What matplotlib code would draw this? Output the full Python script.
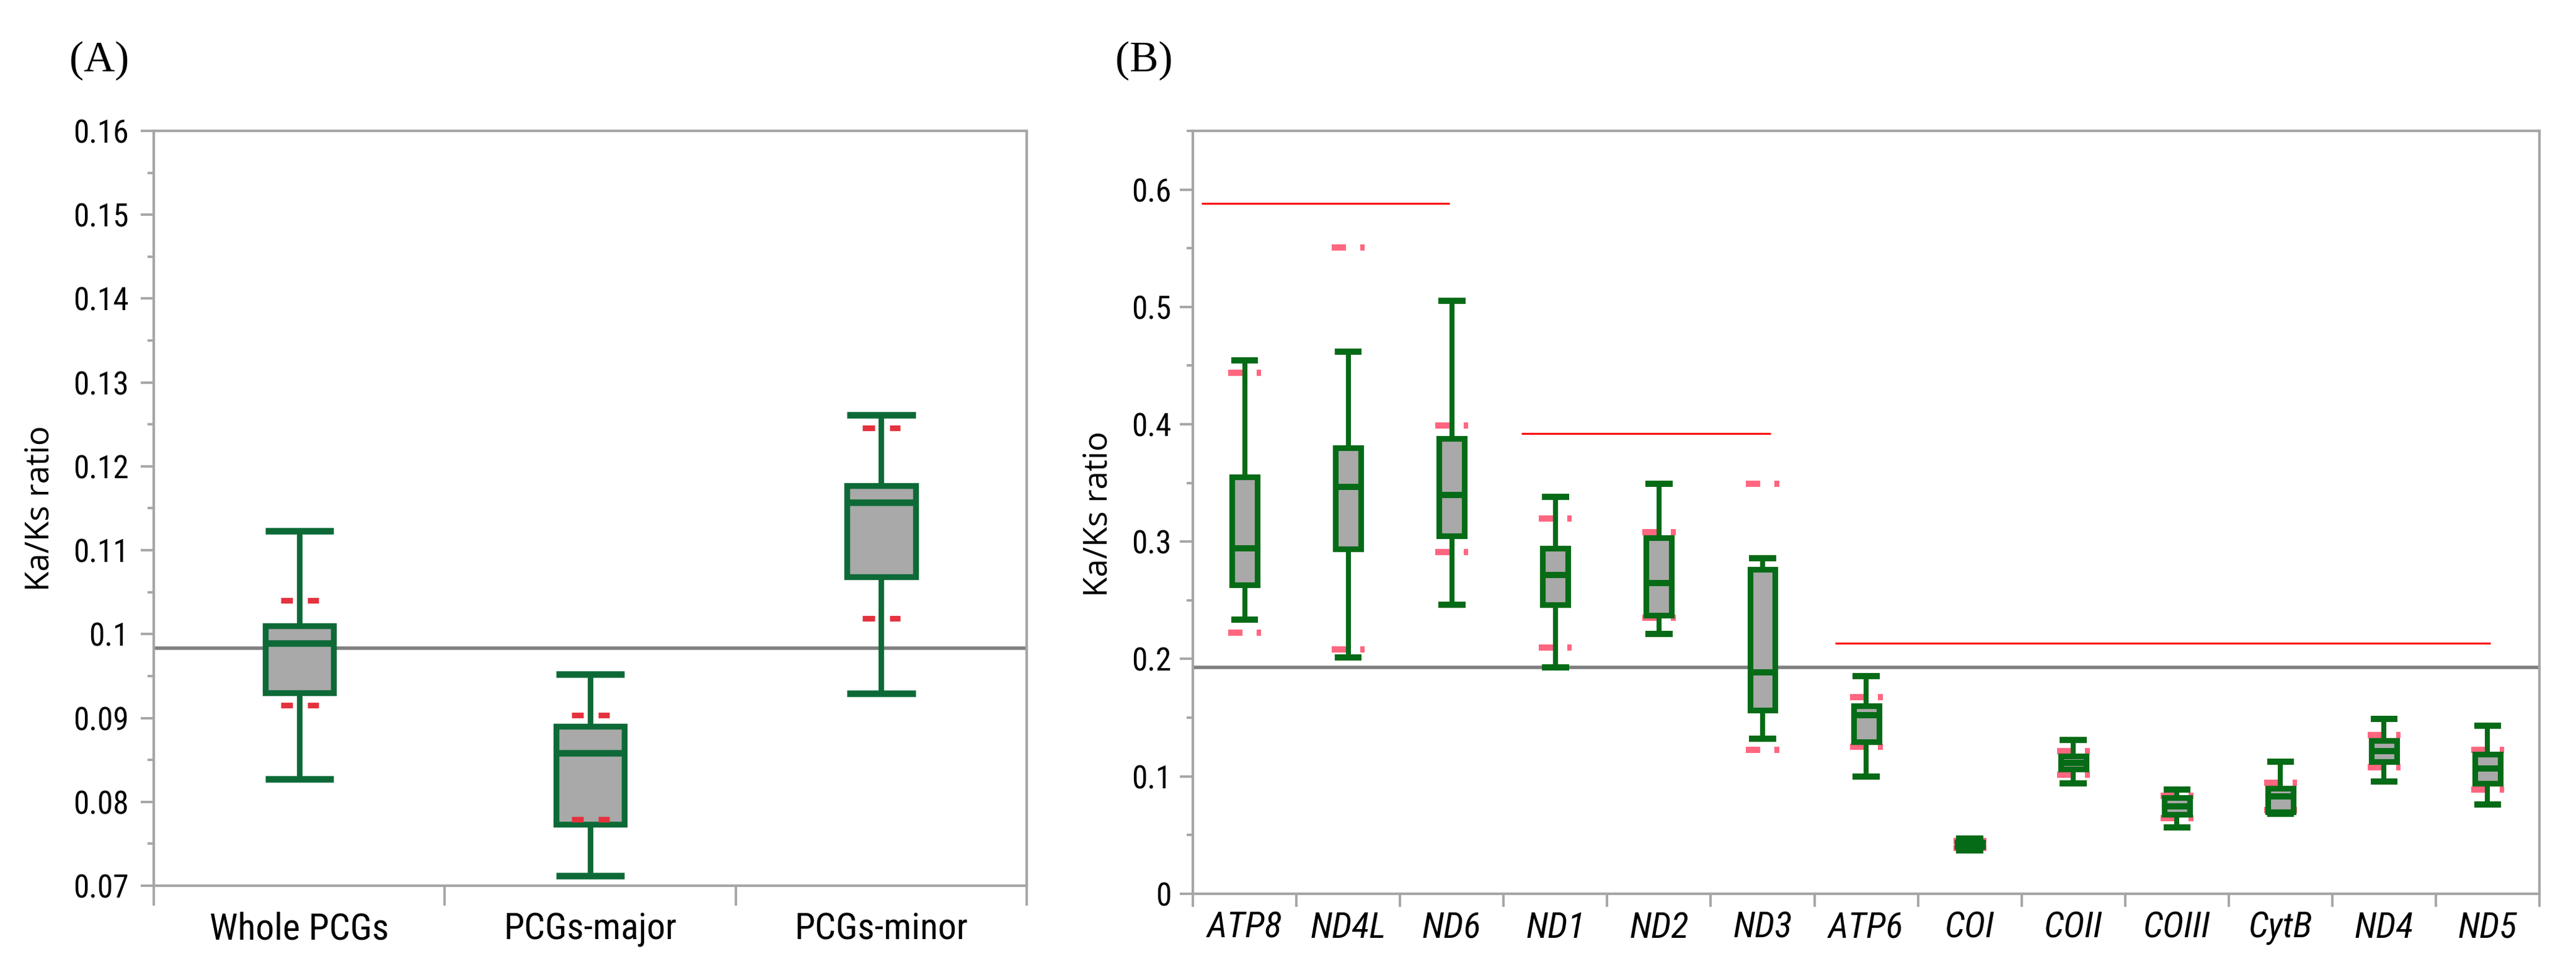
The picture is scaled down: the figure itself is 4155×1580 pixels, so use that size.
import numpy as np
import matplotlib
matplotlib.use('Agg')
import matplotlib.pyplot as plt
from matplotlib.ticker import MultipleLocator, FuncFormatter

plt.rcParams['lines.solid_capstyle'] = 'butt'

# ---- panel A data
cats_a = ['Whole PCGs', 'PCGs-major', 'PCGs-minor']
a_whislo = [0.0827, 0.0712, 0.0929]
a_q1 = [0.0930, 0.0773, 0.1068]
a_med = [0.0989, 0.0858, 0.1157]
a_q3 = [0.1010, 0.0890, 0.1177]
a_whishi = [0.1123, 0.0952, 0.1261]
a_dot_hi = [0.1040, 0.0903, 0.1246]
a_dot_lo = [0.0915, 0.0779, 0.1019]
a_overall = 0.0983

# ---- panel B data
genes = ['ATP8', 'ND4L', 'ND6', 'ND1', 'ND2', 'ND3', 'ATP6', 'COI', 'COII', 'COIII', 'CytB', 'ND4', 'ND5']
b_whislo = [0.2337, 0.2014, 0.2462, 0.193, 0.2212, 0.132, 0.0999, 0.037, 0.094, 0.0564, 0.068, 0.0957, 0.0759]
b_q1 = [0.263, 0.2936, 0.305, 0.246, 0.237, 0.1562, 0.1294, 0.040, 0.106, 0.0675, 0.0698, 0.1124, 0.094]
b_med = [0.2942, 0.3466, 0.3397, 0.2716, 0.2649, 0.1888, 0.152, 0.042, 0.1116, 0.0745, 0.0829, 0.1213, 0.1066]
b_q3 = [0.355, 0.380, 0.388, 0.2942, 0.3034, 0.2766, 0.1603, 0.044, 0.1172, 0.0818, 0.0898, 0.1303, 0.1191]
b_whishi = [0.4547, 0.4617, 0.5052, 0.338, 0.3494, 0.2858, 0.1855, 0.047, 0.1311, 0.0887, 0.1124, 0.1492, 0.1431]
b_dot_hi = [0.4437, 0.5506, 0.3988, 0.3199, 0.3081, 0.3494, 0.1674, 0.045, 0.1213, 0.0837, 0.0948, 0.1353, 0.1228]
b_dot_lo = [0.2225, 0.2083, 0.2914, 0.2097, 0.235, 0.1225, 0.125, 0.039, 0.1013, 0.0642, 0.0712, 0.108, 0.0885]
b_overall = 0.193
grp_level = [0.588, 0.392, 0.2133]
grp_start = [0.58, 3.67, 6.70]
grp_end = [2.98, 6.08, 13.03]

GRAY = '#a6a6a6'
FILL = '#a9a9a9'
NUM_FONT = ['Roboto Condensed', 'DejaVu Sans']
LAB_FONT = ['Open Sans', 'DejaVu Sans']


def stats(lo, q1, med, q3, hi):
    return [dict(whislo=a, q1=b, med=c, q3=d, whishi=e, fliers=[])
            for a, b, c, d, e in zip(lo, q1, med, q3, hi)]


def style_axes(ax, n, ylim, major, minor, xtick_len, ypad):
    ax.set_xlim(0.5, n + 0.5)
    ax.set_ylim(*ylim)
    for s in ax.spines.values():
        s.set_color(GRAY)
        s.set_linewidth(1.5)
    ax.yaxis.set_major_locator(MultipleLocator(major))
    ax.yaxis.set_minor_locator(MultipleLocator(minor))
    ax.yaxis.set_major_formatter(FuncFormatter(lambda v, p: '%g' % round(v, 3)))
    ax.tick_params(axis='y', which='major', length=7.5, width=1.4, color=GRAY,
                   labelsize=18.5, pad=ypad)
    ax.tick_params(axis='y', which='minor', length=3.5, width=1.4, color=GRAY)
    for t in ax.get_yticklabels():
        t.set_family(NUM_FONT)
    ax.set_xticks(np.arange(0.5, n + 1, 1.0))
    ax.set_xticklabels([])
    ax.tick_params(axis='x', which='major', length=xtick_len, width=1.4, color=GRAY)


fig = plt.figure(figsize=(20.775, 7.9), dpi=200)

# ---------------- panel A
axA = fig.add_axes([0.0597, 0.0962, 0.3389, 0.7703])
green_a = '#0d6a37'
pos_a = np.arange(1, len(cats_a) + 1)
axA.axhline(a_overall, color='#7f7f7f', lw=2.0, zorder=1)
axA.bxp(stats(a_whislo, a_q1, a_med, a_q3, a_whishi), positions=pos_a,
        widths=0.235, capwidths=0.235, patch_artist=True, showfliers=False,
        manage_ticks=False,
        boxprops=dict(facecolor=FILL, edgecolor=green_a, linewidth=3.4),
        whiskerprops=dict(color=green_a, linewidth=3.2),
        capprops=dict(color=green_a, linewidth=3.8),
        medianprops=dict(color=green_a, linewidth=3.8), zorder=2)
for x, hi, lo in zip(pos_a, a_dot_hi, a_dot_lo):
    for v in (hi, lo):
        axA.plot([x - 0.064, x - 0.023], [v, v], color='#e5323f', lw=3.3, zorder=3)
        axA.plot([x + 0.028, x + 0.066], [v, v], color='#e5323f', lw=3.3, zorder=3)
style_axes(axA, 3, (0.07, 0.16), 0.01, 0.005, 11.5, 7)
axA.set_xticks(pos_a, minor=True)
axA.set_xticklabels(cats_a, minor=True, family=NUM_FONT, fontsize=21.5)
axA.tick_params(axis='x', which='minor', length=0, pad=15)
axA.text(-0.13, 0.5, 'Ka/Ks ratio', transform=axA.transAxes, rotation=90,
         ha='center', va='center', fontsize=19, family=LAB_FONT)

# ---------------- panel B
axB = fig.add_axes([0.4631, 0.088, 0.5227, 0.7785])
green_b = '#066b16'
pos_b = np.arange(1, len(genes) + 1)
axB.axhline(b_overall, color='#7f7f7f', lw=2.0, zorder=1)
for lv, x0, x1 in zip(grp_level, grp_start, grp_end):
    axB.plot([x0, x1], [lv, lv], color='#ff0000', lw=1.1, zorder=1)
for x, hi, lo in zip(pos_b, b_dot_hi, b_dot_lo):
    for v in (hi, lo):
        axB.plot([x - 0.159, x - 0.025], [v, v], color='#ff6680', lw=3.6, zorder=2)
        axB.plot([x + 0.115, x + 0.159], [v, v], color='#ff6680', lw=3.6, zorder=2)
axB.bxp(stats(b_whislo, b_q1, b_med, b_q3, b_whishi), positions=pos_b,
        widths=0.245, capwidths=0.26, patch_artist=True, showfliers=False,
        manage_ticks=False,
        boxprops=dict(facecolor=FILL, edgecolor=green_b, linewidth=3.3),
        whiskerprops=dict(color=green_b, linewidth=2.9),
        capprops=dict(color=green_b, linewidth=3.6),
        medianprops=dict(color=green_b, linewidth=3.6), zorder=3)
style_axes(axB, len(genes), (0, 0.65), 0.1, 0.05, 7.5, 5)
axB.set_xticks(pos_b, minor=True)
axB.set_xticklabels(genes, minor=True, family=NUM_FONT, fontsize=21, style='italic')
axB.tick_params(axis='x', which='minor', length=0, pad=10)
axB.text(-0.07, 0.498, 'Ka/Ks ratio', transform=axB.transAxes, rotation=90,
         ha='center', va='center', fontsize=19, family=LAB_FONT)

fig.text(0.0385, 0.938, '(A)', ha='center', va='center', fontsize=25,
         family=['Liberation Serif', 'DejaVu Serif'])
fig.text(0.444, 0.938, '(B)', ha='center', va='center', fontsize=25,
         family=['Liberation Serif', 'DejaVu Serif'])

fig.savefig('out.png', dpi=200)
